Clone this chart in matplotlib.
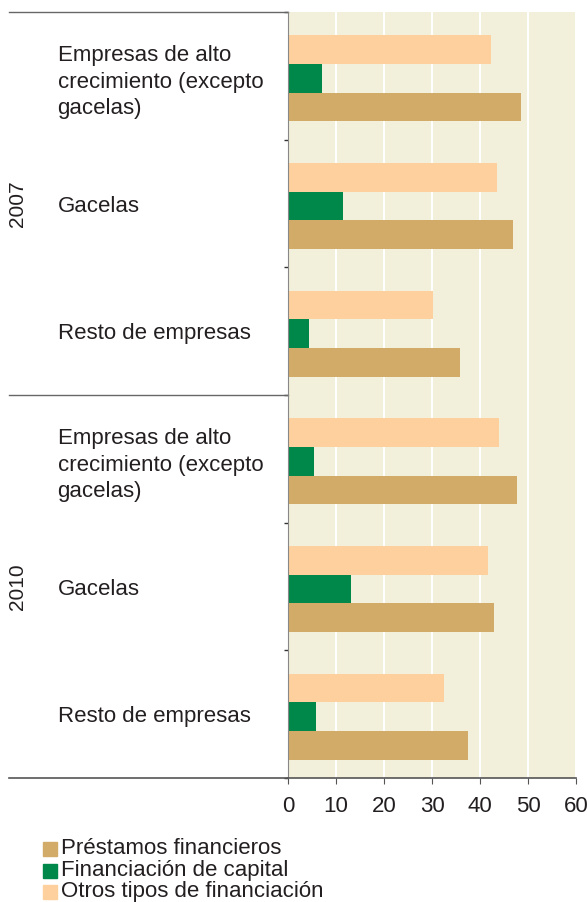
import matplotlib
matplotlib.use("Agg")
import matplotlib.pyplot as plt
from matplotlib.patches import Rectangle
from matplotlib.transforms import blended_transform_factory

# data (%), groups top -> bottom
years = ["2007", "2010"]
groups = ["Empresas de alto\ncrecimiento (excepto\ngacelas)", "Gacelas", "Resto de empresas"]
prestamos = [48.5, 46.8, 35.8, 47.7, 43.0, 37.6]
capital = [7.1, 11.5, 4.4, 5.4, 13.1, 5.8]
otros = [42.3, 43.5, 30.2, 44.0, 41.7, 32.5]
series_names = ["Préstamos financieros", "Financiación de capital", "Otros tipos de financiación"]

c_prest = "#D3AB69"
c_cap = "#00874A"
c_otros = "#FDD09E"
bg = "#F2EFDA"
txt = "#231F20"

plt.rcParams["font.family"] = ["Liberation Sans", "DejaVu Sans"]

fig = plt.figure(figsize=(5.87, 9.02), dpi=100)
ax = fig.add_axes([288 / 587, 1 - 778 / 902, 288 / 587, 766 / 902])
ax.set_facecolor(bg)

n = len(prestamos)
h = 0.225
centers = [i + 0.52 for i in range(n)]
ax.barh([c - h for c in centers], otros, height=h, color=c_otros, zorder=2)
ax.barh(centers, capital, height=h, color=c_cap, zorder=2)
ax.barh([c + h for c in centers], prestamos, height=h, color=c_prest, zorder=2)

ax.set_xlim(0, 60)
ax.set_ylim(n, 0)
ax.set_xticks(range(0, 61, 10))
ax.xaxis.grid(True, color="white", linewidth=1.5, zorder=1)
ax.set_axisbelow(True)
ax.tick_params(axis="x", length=4, color="#555555", labelsize=16, labelcolor=txt, pad=9)
ax.set_yticks(range(0, n + 1))
ax.set_yticklabels([])
ax.tick_params(axis="y", length=3, color="#333333", width=1)

for s in ["top", "right"]:
    ax.spines[s].set_visible(False)
ax.spines["left"].set_color("#888888")
ax.spines["bottom"].set_color("#555555")
ax.spines["bottom"].set_linewidth(1.2)

# separator lines extending left of the plot
tr = blended_transform_factory(ax.transAxes, ax.transData)
x0 = (9 - 288) / 288
for yy in [0, 3]:
    ax.plot([x0, 0], [yy, yy], color="#666666", lw=1.0, clip_on=False, transform=tr)
ax.plot([x0, 0], [n, n], color="#555555", lw=1.2, clip_on=False, transform=tr)

for i in range(n):
    label = groups[i % 3]
    off = 0.55 if "\n" in label else 0.52
    ax.text(-0.80, i + off, label, transform=tr, ha="left", va="center",
            fontsize=16, color=txt, linespacing=1.36)
for j, yr in enumerate(years):
    ax.text(-0.9375, 3 * j + 1.5, yr, transform=tr, ha="center", va="center",
            rotation=90, fontsize=15, color=txt)

# legend drawn by hand: small squares plus labels
for k, (name, col) in enumerate(zip(series_names, [c_prest, c_cap, c_otros])):
    yc = 1 - (849 + 21.5 * k) / 902
    fig.patches.append(Rectangle((43 / 587, yc - 7 / 902), 14 / 587, 14 / 902,
                                 transform=fig.transFigure, color=col))
    fig.text(61 / 587, yc, name, ha="left", va="center", fontsize=16, color=txt)

fig.savefig("out.png", dpi=100)
